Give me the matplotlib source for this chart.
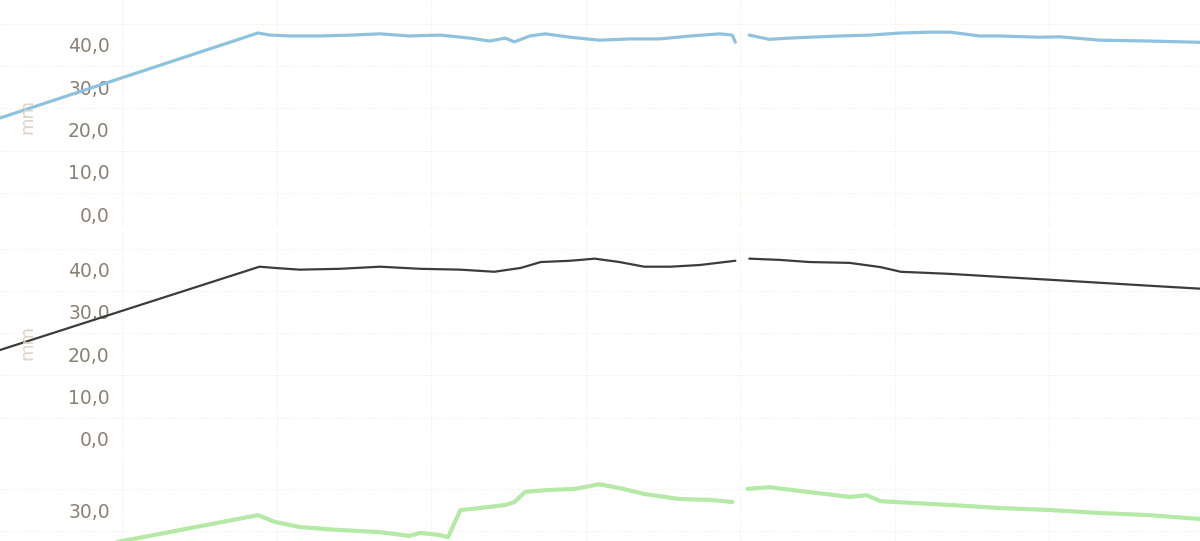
import numpy as np
import matplotlib
matplotlib.use("Agg")
import matplotlib.pyplot as plt

nan = np.nan

# Panel 1 (blue)
t1 = [-7.9, 8.8, 9.6, 10.9, 12.8, 14.8, 16.7, 18.6, 20.6, 22.5, 23.8, 24.8, 25.4,
      26.4, 27.4, 29.0, 30.9, 32.9, 34.8, 36.8, 38.7, 39.5, 39.7, 40.1,
      40.6, 41.9, 43.2, 44.5, 46.5, 48.4, 50.4, 52.3, 53.6, 55.5, 56.8, 59.4,
      60.7, 63.3, 66.5, 69.8]
v1 = [22.7, 42.8, 42.3, 42.1, 42.1, 42.3, 42.6, 42.1, 42.3, 41.6, 40.9, 41.6, 40.7,
      42.1, 42.6, 41.8, 41.1, 41.4, 41.4, 42.1, 42.6, 42.3, 40.6, nan,
      42.3, 41.3, 41.6, 41.8, 42.1, 42.3, 42.8, 43.0, 43.0, 42.1, 42.1, 41.8,
      41.9, 41.1, 40.9, 40.6]

# Panel 2 (dark)
t2 = [-7.9, 8.9, 9.9, 11.5, 14.1, 16.7, 19.3, 21.9, 24.1, 25.8, 27.1, 29.0, 30.6,
      32.2, 33.8, 35.5, 37.4, 39.7, 40.1,
      40.6, 42.6, 44.5, 47.1, 49.1, 50.4, 53.6, 56.8, 60.1, 63.3, 66.5, 69.8]
v2 = [21.0, 40.7, 40.4, 40.0, 40.2, 40.7, 40.2, 40.0, 39.5, 40.4, 41.8, 42.1, 42.6,
      41.8, 40.7, 40.7, 41.1, 42.1, nan,
      42.6, 42.3, 41.8, 41.6, 40.6, 39.5, 39.0, 38.3, 37.6, 36.9, 36.2, 35.5]

# Panel 3 (green)
t3 = [-1.4, 8.8, 9.9, 11.5, 14.1, 16.7, 18.6, 19.3, 20.6, 21.1, 21.9, 23.2, 24.8,
      25.4, 26.1, 27.4, 29.3, 30.9, 32.2, 33.8, 36.1, 38.1, 39.5, 40.0,
      40.5, 41.9, 43.9, 47.1, 48.2, 49.1, 53.6, 56.8, 60.1, 63.3, 66.5, 69.8]
v3 = [21.7, 28.8, 27.2, 26.0, 25.3, 24.8, 23.9, 24.6, 24.1, 23.6, 30.0, 30.5, 31.2,
      31.9, 34.3, 34.7, 35.0, 36.1, 35.2, 33.8, 32.6, 32.4, 31.9, nan,
      35.0, 35.4, 34.5, 33.1, 33.5, 32.1, 31.2, 30.5, 30.0, 29.3, 28.8, 27.9]

ticks12 = [0, 10, 20, 30, 40]
ticks3 = [30]
xgrid = [0, 10, 20, 30, 40, 50, 60]
ylabel = "mm"

W, H = 1200, 541
fig = plt.figure(figsize=(12, 5.41), dpi=100)
fig.patch.set_facecolor("white")

def mk(top_px, bot_px):
    return fig.add_axes([0, 1 - bot_px / H, 1, (bot_px - top_px) / H])

specs = [
    (0, 228, t1, v1, "#8fc2de", 2.3, (-3.3, 50.6), ticks12),
    (232, 452, t2, v2, "#3c3c3c", 1.6, (-3.1, 48.9), ticks12),
    (455, 541, t3, v3, "#b4e9a6", 3.0, (22.7, 43.0), ticks3),
]
xl = (-122 / 15.45, 1078 / 15.45)
for top, bot, t, v, c, lw, yl, tk in specs:
    ax = mk(top, bot)
    ax.set_xlim(*xl)
    ax.set_ylim(*yl)
    for s in ax.spines.values():
        s.set_visible(False)
    ax.set_xticks(xgrid)
    ax.set_xticklabels([])
    ax.tick_params(axis="x", length=0)
    ax.set_yticks(tk)
    ax.set_yticklabels([f"{x:.1f}".replace(".", ",") for x in tk])
    ax.tick_params(axis="y", length=0, pad=-79, labelsize=13.5, labelcolor="#8a8176")
    ax.grid(True, axis="x", color="#efedda", lw=0.8, ls=":")
    for yv in np.arange(5, 50, 10):
        ax.axhline(yv, color="#f1efde", lw=0.8, ls=":", zorder=0)
    ax.plot(t, v, color=c, lw=lw, solid_capstyle="round", zorder=3)

fig.text(27 / W, 1 - 117 / H, ylabel, rotation=90, ha="center", va="center",
         fontsize=13, color="#dcd3c2")
fig.text(27 / W, 1 - 343 / H, ylabel, rotation=90, ha="center", va="center",
         fontsize=13, color="#dcd3c2")

fig.savefig("out.png", dpi=100, facecolor="white")
